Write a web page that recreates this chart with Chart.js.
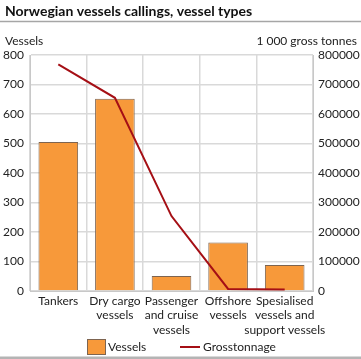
<!DOCTYPE html>
<html><head><meta charset="utf-8">
<script src="https://cdn.jsdelivr.net/npm/chart.js@4/dist/chart.umd.min.js"></script>
<style>html,body{margin:0;padding:0;background:#fff}</style>
</head><body><canvas id="c" width="361" height="359"></canvas>
<script>
const categories = [["Tankers"], ["Dry cargo","vessels"], ["Passenger","and cruise","vessels"], ["Offshore","vessels"], ["Spesialised","vessels and","support vessels"]];
const vessels = [505, 652, 51, 164, 88];
const grossTonnage = [768000, 655000, 254000, 7000, 5000];
const leftTicks = [0, 800, 100];
const rightTicks = [0, 800000, 100000];
const titleText = "Norwegian vessels callings, vessel types";
const leftTitle = "Vessels";
const rightTitle = "1 000 gross tonnes";

const FONT = "Lato, 'Open Sans', sans-serif";
Chart.defaults.font.family = FONT;
Chart.defaults.font.size = 12;
Chart.defaults.color = '#222';

const deco = {
  id: 'deco',
  afterDraw(chart) {
    const ctx = chart.ctx;
    ctx.save();
    ctx.fillStyle = '#111';
    ctx.font = "bold 14px " + FONT;
    ctx.textBaseline = 'alphabetic';
    ctx.textAlign = 'left';
    ctx.fillText(titleText, 5, 16);
    ctx.strokeStyle = '#a6a6a6';
    ctx.lineWidth = 1.5;
    ctx.beginPath(); ctx.moveTo(0, 21.5); ctx.lineTo(361, 21.5); ctx.stroke();
    ctx.lineWidth = 3;
    ctx.strokeStyle = '#b4b4b4';
    ctx.beginPath(); ctx.moveTo(0, 358); ctx.lineTo(361, 358); ctx.stroke();
    ctx.fillStyle = '#222';
    ctx.font = "12px " + FONT;
    ctx.fillText(leftTitle, 5, 45);
    ctx.textAlign = 'right';
    ctx.fillText(rightTitle, 357, 45);
    // legend
    const ds = chart.data.datasets;
    ctx.textAlign = 'left';
    ctx.textBaseline = 'middle';
    const cy = 347;
    ctx.fillStyle = ds[0].backgroundColor;
    ctx.fillRect(87, 339, 19, 16);
    ctx.strokeStyle = ds[0].borderColor;
    ctx.lineWidth = 1;
    ctx.strokeRect(87.5, 339.5, 18, 15);
    ctx.fillStyle = '#222';
    ctx.fillText(ds[0].label, 108, cy);
    ctx.strokeStyle = ds[1].borderColor;
    ctx.lineWidth = 2;
    ctx.beginPath(); ctx.moveTo(180, cy); ctx.lineTo(200, cy); ctx.stroke();
    ctx.fillText(ds[1].label, 203, cy);
    ctx.restore();
  }
};

new Chart(document.getElementById('c'), {
  data: {
    labels: categories,
    datasets: [
      { type: 'bar', label: 'Vessels', data: vessels, yAxisID: 'y', order: 1,
        backgroundColor: '#f7993a', borderColor: '#7d6450', borderWidth: 1,
        categoryPercentage: 1, barPercentage: 0.7 },
      { type: 'line', label: 'Grosstonnage', data: grossTonnage, yAxisID: 'y1', order: 0,
        borderColor: '#a50f15', backgroundColor: '#a50f15', borderWidth: 2, pointRadius: 0, tension: 0 }
    ]
  },
  options: {
    responsive: false, animation: false,
    layout: { padding: { top: 55, left: 0, right: 0, bottom: 0 } },
    plugins: { tooltip: { enabled: false }, title: { display: false }, legend: { display: false } },
    scales: {
      x: {
        grid: { color: '#d9d9d9', lineWidth: 1.5, offset: true, drawTicks: false },
        border: { color: '#c8c8c8' },
        ticks: { maxRotation: 0, autoSkip: false, padding: 3, font: { lineHeight: 1.2 } },
        afterFit(s) { s.height = 68; }
      },
      y: {
        position: 'left', min: leftTicks[0], max: leftTicks[1],
        ticks: { stepSize: leftTicks[2], padding: 6 },
        grid: { color: '#d9d9d9', lineWidth: 1.5, drawTicks: false },
        border: { color: '#c8c8c8' },
        afterFit(s) { s.width = 30; }
      },
      y1: {
        position: 'right', min: rightTicks[0], max: rightTicks[1],
        ticks: { stepSize: rightTicks[2], padding: 5, callback: v => String(v) },
        grid: { display: false, drawTicks: false },
        border: { color: '#c8c8c8' },
        afterFit(s) { s.width = 48; }
      }
    }
  },
  plugins: [deco]
});
</script></body></html>
